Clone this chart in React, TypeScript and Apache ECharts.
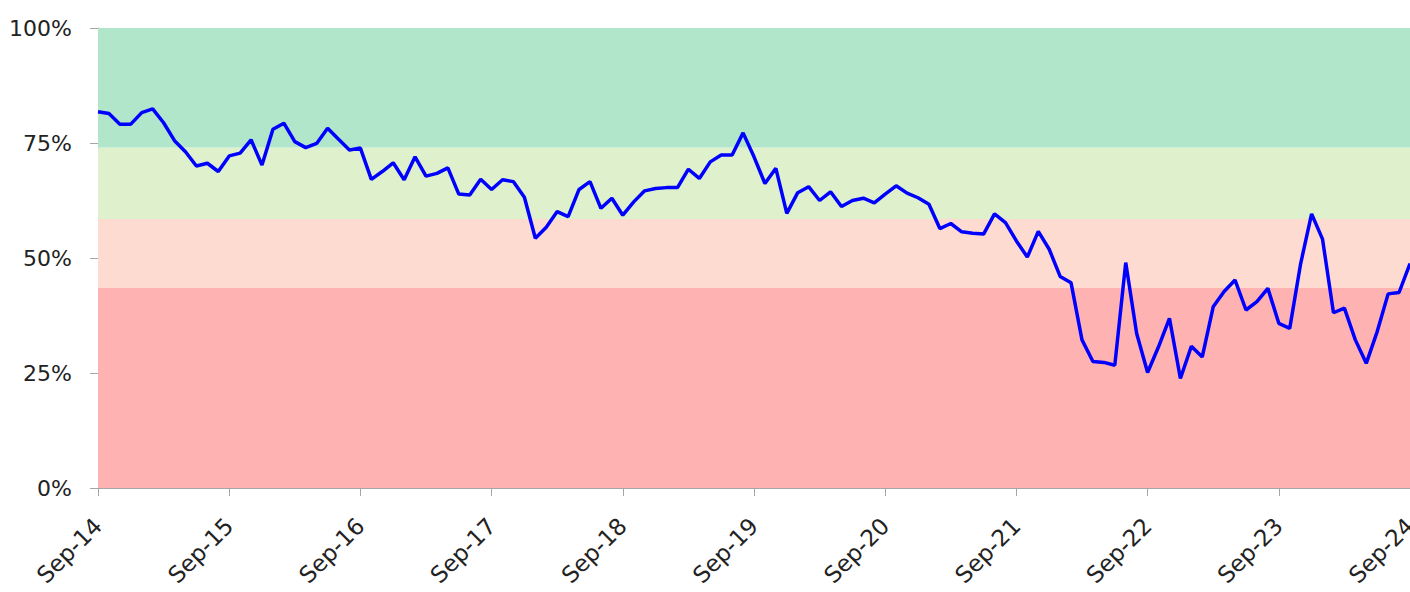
import React, { useEffect, useRef } from "react";
import * as echarts from "echarts";

const monthNames = ["Sep", "Oct", "Nov", "Dec", "Jan", "Feb", "Mar", "Apr", "May", "Jun", "Jul", "Aug"];
const startYear = 14;
const monthCount = 121;

const categories: string[] = [];
for (let i = 0; i < monthCount; i++) {
  const m = i % 12;
  const yr = startYear + Math.floor((i + 8) / 12);
  categories.push(`${monthNames[m]}-${String(yr).padStart(2, "0")}`);
}

const values: number[] = [
  81.8, 81.4, 79.1, 79.1, 81.6, 82.4, 79.4, 75.5, 73.1, 70.0, 70.6, 68.8,
  72.2, 72.8, 75.7, 70.2, 78.0, 79.3, 75.3, 74.0, 74.9, 78.2, 75.8, 73.5,
  73.9, 67.1, 68.8, 70.7, 67.0, 72.0, 67.8, 68.4, 69.6, 63.9, 63.7, 67.1,
  64.9, 67.0, 66.6, 63.2, 54.3, 56.7, 60.1, 59.0, 64.9, 66.6, 60.8, 63.0,
  59.3, 62.2, 64.6, 65.1, 65.3, 65.3, 69.3, 67.3, 70.9, 72.4, 72.4, 77.2,
  72.0, 66.2, 69.5, 59.7, 64.2, 65.5, 62.5, 64.4, 61.2, 62.5, 63.0, 62.0,
  63.9, 65.7, 64.1, 63.1, 61.7, 56.4, 57.5, 55.7, 55.4, 55.2, 59.6, 57.7,
  53.7, 50.2, 55.8, 51.9, 46.0, 44.6, 32.2, 27.5, 27.3, 26.7, 49.0, 33.6,
  25.1, 30.7, 36.9, 23.8, 30.8, 28.5, 39.4, 42.7, 45.2, 38.7, 40.5, 43.4,
  35.8, 34.7, 48.8, 59.6, 54.1, 38.1, 39.1, 32.2, 27.1, 34.0, 42.2, 42.5,
  48.8,
];

const bandEdges: number[] = [0, 43.5, 58.5, 74, 100];
const bandColors: string[] = ["#ffb2b2", "#fddbd1", "#def0cc", "#b2e6cb"];

export default function App() {
  const ref = useRef<HTMLDivElement>(null);
  useEffect(() => {
    if (!ref.current) return;
    document.body.style.margin = "0";
    document.body.style.overflow = "hidden";
    const chart = echarts.init(ref.current, undefined, { renderer: "svg", width: 1410, height: 592 });
    const font = "DejaVu Sans";
    const bands = bandColors.map((c, i) => [
      { yAxis: bandEdges[i], itemStyle: { color: c } },
      { yAxis: bandEdges[i + 1] },
    ]);
    chart.setOption({
      animation: false,
      grid: {
        left: 98,
        top: 28,
        right: 0,
        bottom: 104,
        containLabel: false,
        outerBoundsMode: "none",
      },
      xAxis: {
        type: "category",
        data: categories,
        boundaryGap: false,
        axisLine: { show: true, lineStyle: { color: "#a6a6a6", width: 1 } },
        axisTick: {
          show: true,
          length: 8,
          interval: (idx: number) => idx % 12 === 0,
          lineStyle: { color: "#a6a6a6" },
        },
        axisLabel: {
          interval: (idx: number) => idx % 12 === 0,
          rotate: 45,
          margin: 34,
          fontFamily: font,
          fontSize: 23,
          color: "#222222",
          hideOverlap: false,
        },
        splitLine: { show: false },
      },
      yAxis: {
        type: "value",
        min: 0,
        max: 100,
        interval: 25,
        axisLine: { show: true, lineStyle: { color: "#a6a6a6", width: 1 } },
        axisTick: { show: true, length: 8, lineStyle: { color: "#a6a6a6" } },
        axisLabel: {
          formatter: "{value}%",
          margin: 26,
          fontFamily: font,
          fontSize: 22,
          color: "#222222",
        },
        splitLine: { show: false },
      },
      series: [
        {
          type: "line",
          data: [],
          z: 1,
          silent: true,
          markArea: { silent: true, data: bands },
        },
        {
          type: "line",
          data: values,
          z: 3,
          symbol: "none",
          smooth: false,
          lineStyle: { color: "#0000ff", width: 3.5 },
        },
      ],
    });
    return () => chart.dispose();
  }, []);
  return (
    <div
      ref={ref}
      style={{ position: "absolute", left: 0, top: 0, width: 1410, height: 592 }}
    />
  );
}
